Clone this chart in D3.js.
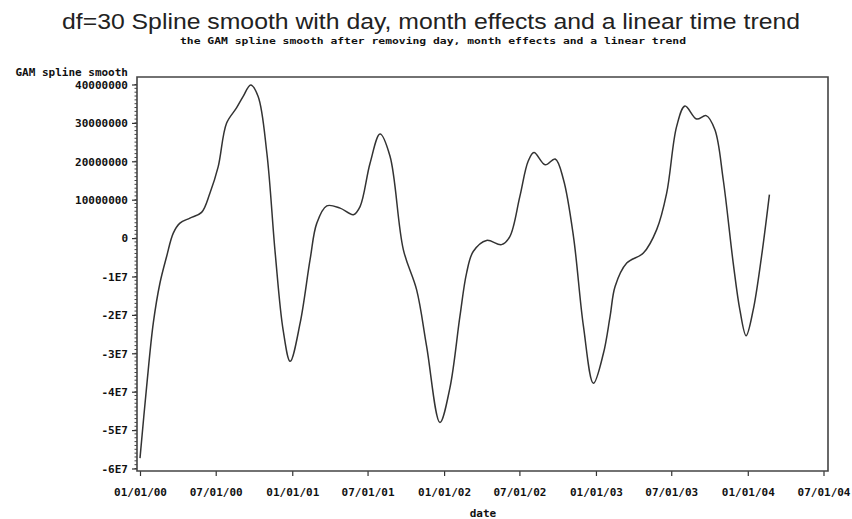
<!DOCTYPE html>
<html>
<head>
<meta charset="utf-8">
<script src="https://cdn.jsdelivr.net/npm/d3@7"></script>
<style>
  body { margin: 0; background: #fff; }
  .lab { font-family: "DejaVu Sans Mono", monospace; font-weight: bold; font-size: 11px; fill: #111; }
</style>
</head>
<body>
<div id="chart"></div>
<script>
// smoothed curve (value in units of 1E6)
var dates = [
  "2000-01-01","2000-01-17","2000-02-02","2000-02-18","2000-03-05","2000-03-21","2000-04-06","2000-04-30",
  "2000-05-28","2000-06-17","2000-07-07","2000-07-27","2000-08-20","2000-09-05","2000-09-23","2000-10-11",
  "2000-11-01","2000-11-21","2000-12-10","2000-12-27","2001-01-20","2001-02-13","2001-03-01","2001-03-25",
  "2001-04-26","2001-05-28","2001-06-13","2001-07-07","2001-07-31","2001-08-24","2001-09-25","2001-10-27",
  "2001-11-20","2001-12-22","2002-01-15","2002-02-08","2002-02-24","2002-03-12","2002-04-13","2002-05-19",
  "2002-06-08","2002-07-02","2002-07-22","2002-08-05","2002-09-01","2002-09-25","2002-10-15","2002-11-08",
  "2002-12-02","2002-12-26","2003-01-19","2003-02-04","2003-02-16","2003-03-16","2003-04-25","2003-05-27",
  "2003-06-20","2003-07-14","2003-08-03","2003-08-31","2003-09-23","2003-10-14","2003-11-03","2003-11-27",
  "2003-12-13","2003-12-28","2004-01-14","2004-02-03","2004-02-22"
];
var smoothM = [
  -57.3,-38.6,-22.1,-11.7,-4.8,1.3,3.9,5.2,
  6.7,11.7,18.6,29.9,33.9,36.9,39.9,36.9,
  22.1,-3.9,-23.9,-32.1,-22.1,-5.5,3.9,8.4,
  7.8,6.1,8.2,19.5,27.1,21.3,-3.0,-13.5,
  -28.2,-48.0,-39.0,-20.4,-9.1,-3.5,-0.6,-1.7,
  0.4,10.8,20.0,22.3,19.1,20.6,15.2,0.4,
  -23.0,-37.8,-30.0,-20.4,-12.6,-6.5,-3.9,2.2,
  11.7,29.1,34.4,31.0,31.9,28.2,15.2,-6.5,
  -18.7,-25.4,-18.7,-4.8,11.3
];
var yTicks = [-6e7,-5e7,-4e7,-3e7,-2e7,-1e7,0,1e7,2e7,3e7,4e7];
var yTickLabels = ["-6E7","-5E7","-4E7","-3E7","-2E7","-1E7","0","10000000","20000000","30000000","40000000"];
var xTicks = ["2000-01-01","2000-07-01","2001-01-01","2001-07-01","2002-01-01",
              "2002-07-01","2003-01-01","2003-07-01","2004-01-01","2004-07-01"];

var W = 852, H = 519;
var parse = d3.utcParse("%Y-%m-%d");
var data = dates.map(function(d, i) { return { date: parse(d), v: smoothM[i] * 1e6 }; });

var svg = d3.select("#chart").append("svg")
    .attr("width", W).attr("height", H);

var x = d3.scaleUtc()
    .domain([parse(xTicks[0]), parse(xTicks[xTicks.length - 1])])
    .range([140, 823.5]);
var y = d3.scaleLinear()
    .domain([-6e7, 4e7])
    .range([468.5, 84.5]);

// frame box
var fl = 137, fr = 828, ft = 77, fb = 471;

// y minor ticks
var minor = d3.range(-6e7, 4e7 + 1, 1e6);
svg.append("g").selectAll("line").data(minor).enter().append("line")
    .attr("x1", fl - 2.5).attr("x2", fl)
    .attr("y1", function(d) { return y(d); }).attr("y2", function(d) { return y(d); })
    .attr("stroke", "#444").attr("stroke-width", 1);

var yAxis = d3.axisLeft(y).tickValues(yTicks)
    .tickFormat(function(d, i) { return yTickLabels[i]; })
    .tickSize(5).tickPadding(4);
var gy = svg.append("g").attr("transform", "translate(" + fl + ",0)").call(yAxis);
gy.select(".domain").remove();
gy.selectAll("line").attr("stroke", "#333").attr("stroke-width", 1.2);
gy.selectAll("text").attr("class", "lab").attr("x", -9).attr("dy", "0.35em");

var xAxis = d3.axisBottom(x).tickValues(xTicks.map(parse))
    .tickFormat(d3.utcFormat("%m/%d/%y"))
    .tickSize(5).tickPadding(12);
var gx = svg.append("g").attr("transform", "translate(0," + fb + ")").call(xAxis);
gx.select(".domain").remove();
gx.selectAll("line").attr("stroke", "#333").attr("stroke-width", 1.2);
gx.selectAll("text").attr("class", "lab").attr("dy", "0.7em");

// axes frame
svg.append("path")
    .attr("d", "M" + fl + "," + fb + "V" + ft + "H" + fr + "V" + fb + "Z")
    .attr("fill", "none").attr("stroke", "#444").attr("stroke-width", 1.6);

// the curve
var line = d3.line()
    .x(function(d) { return x(d.date); })
    .y(function(d) { return y(d.v); })
    .curve(d3.curveCatmullRom.alpha(0.5));
svg.append("path").datum(data)
    .attr("d", line)
    .attr("fill", "none").attr("stroke", "#333").attr("stroke-width", 1.5);

// titles and labels
svg.append("text").attr("x", 431).attr("y", 29)
    .attr("text-anchor", "middle")
    .attr("textLength", 738).attr("lengthAdjust", "spacingAndGlyphs")
    .style("font-family", "'Liberation Sans', Arial, sans-serif")
    .style("font-size", "22px").style("fill", "#222")
    .text("df=30 Spline smooth with day, month effects and a linear time trend");

svg.append("text").attr("class", "lab").attr("x", 433).attr("y", 44)
    .attr("text-anchor", "middle")
    .attr("textLength", 506).attr("lengthAdjust", "spacingAndGlyphs")
    .style("font-size", "9px")
    .text("the GAM spline smooth after removing day, month effects and a linear trend");

svg.append("text").attr("class", "lab").attr("x", 128).attr("y", 76)
    .attr("text-anchor", "end")
    .text("GAM spline smooth");

svg.append("text").attr("class", "lab").attr("x", 483).attr("y", 517)
    .attr("text-anchor", "middle")
    .text("date");
</script>
</body>
</html>
